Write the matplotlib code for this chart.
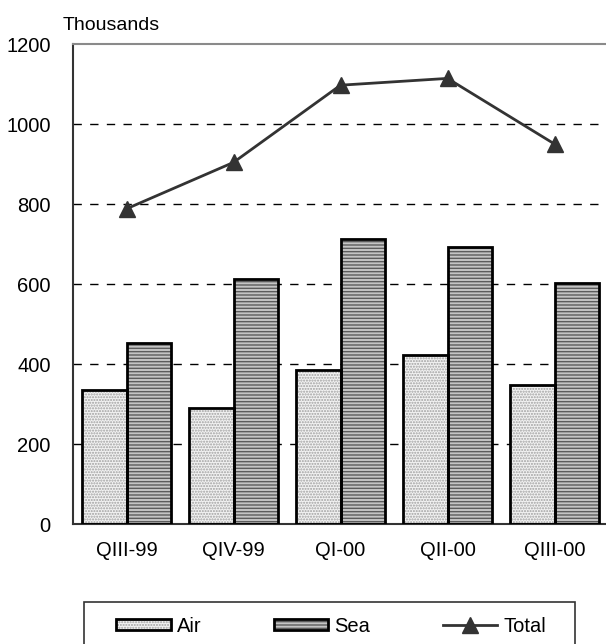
import matplotlib
matplotlib.use("Agg")
import matplotlib.pyplot as plt
from matplotlib.patches import Patch, Rectangle
from matplotlib.lines import Line2D
import numpy as np

categories = ["QIII-99", "QIV-99", "QI-00", "QII-00", "QIII-00"]
air = [335, 291, 385, 422, 348]
sea = [453, 613, 712, 692, 602]
total = [788, 904, 1097, 1114, 950]
yticks = [0, 200, 400, 600, 800, 1000, 1200]

plt.rcParams['font.family'] = ['Liberation Sans', 'DejaVu Sans']
plt.rcParams['hatch.linewidth'] = 1.0

W, H = 606, 644
fig = plt.figure(figsize=(W / 100, H / 100), dpi=100)
ax = fig.add_axes([73 / W, (H - 524) / H, (608 - 73) / W, (524 - 44) / H])

x = np.arange(len(categories))
bw = 0.42

air_fill = dict(facecolor='#f2f2f2', edgecolor='#a0a0a0', hatch='......', linewidth=0)
sea_fill = dict(facecolor='#c4c4c4', edgecolor='#5c5c5c', hatch='-----', linewidth=0)
outline = dict(fill=False, edgecolor='black', linewidth=2)

ax.bar(x - bw / 2, air, bw, zorder=2, **air_fill)
ax.bar(x - bw / 2, air, bw, zorder=3, **outline)
ax.bar(x + bw / 2, sea, bw, zorder=2, **sea_fill)
ax.bar(x + bw / 2, sea, bw, zorder=3, **outline)

ax.plot(x, total, color='#333333', linewidth=2, marker='^', markersize=12, zorder=4)

ax.set_xlim(-0.5, len(categories) - 0.5)
ax.set_ylim(0, 1200)
ax.set_yticks(yticks)
ax.set_yticklabels([str(v) for v in yticks])
ax.set_xticks(x)
ax.set_xticklabels(categories)
ax.tick_params(axis='both', length=0, labelsize=14.5, colors='black')
ax.tick_params(axis='y', pad=16)
ax.tick_params(axis='x', pad=12)

for v in yticks[1:-1]:
    ax.axhline(v, color='black', linewidth=1, linestyle=(0, (6, 6)), zorder=1)

ax.spines['top'].set_color('#8a8a8a')
ax.spines['top'].set_linewidth(1.5)
ax.spines['right'].set_visible(False)
ax.spines['left'].set_color('#333333')
ax.spines['left'].set_linewidth(1.5)
ax.spines['bottom'].set_color('#333333')
ax.spines['bottom'].set_linewidth(1.5)

fig.text(63 / W, 1 - 26 / H, "Thousands", fontsize=14, va='center', ha='left')

# legend frame
fig.patches.append(Rectangle((84 / W, -0.05), (575 - 84) / W, (H - 602) / H + 0.05,
                             transform=fig.transFigure, fill=False,
                             edgecolor='#333333', linewidth=1.2))

h_air = (Patch(**air_fill), Patch(**outline))
h_sea = (Patch(**sea_fill), Patch(**outline))
h_tot = Line2D([], [], color='#333333', linewidth=2, marker='^', markersize=12)
fig.legend([h_air, h_sea, h_tot], ["Air", "Sea", "Total"], ncol=3,
           loc='center', bbox_to_anchor=(331 / W, 1 - 626 / H), frameon=False,
           fontsize=14.5, handlelength=2.7, handleheight=0.5, columnspacing=3.6,
           handletextpad=0.3)

fig.savefig("out.png", dpi=100)
